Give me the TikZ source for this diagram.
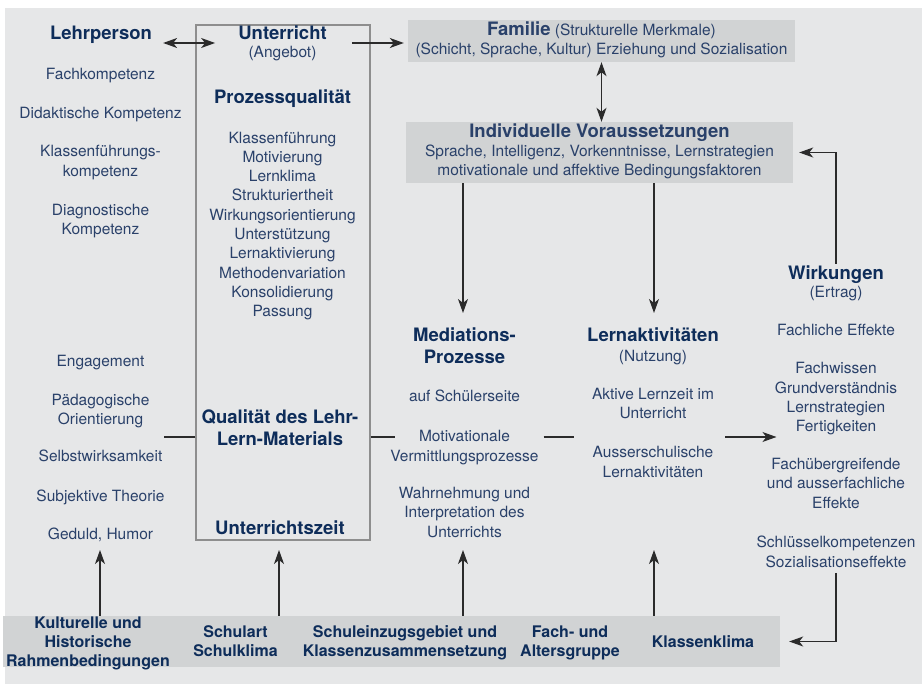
\documentclass[tikz,border=0pt]{standalone}
\usepackage{fontspec}
\setmainfont{TeX Gyre Heros}
\usetikzlibrary{arrows.meta,calc}
\definecolor{bgc}{HTML}{E6E7E8}
\definecolor{boxc}{HTML}{D1D3D4}
\definecolor{txtc}{HTML}{2A416A}
\definecolor{ttlc}{HTML}{0E2D5A}
\definecolor{lnc}{HTML}{2B2B2B}
\definecolor{framec}{HTML}{8E8E8E}
\newcommand\rgf{\fontsize{15.5}{19.3}\selectfont}
\newcommand\bdf{\fontsize{18.5}{22.5}\selectfont\bfseries}
\newcommand\btf{\fontsize{16}{19}\selectfont\bfseries}
\tikzset{
  txt/.style={inner sep=0pt, align=center, text=txtc, font=\rgf},
  ttl/.style={inner sep=0pt, align=center, text=ttlc, font=\bdf},
  btm/.style={inner sep=0pt, align=center, text=ttlc, font=\btf},
  conn/.style={draw=lnc, line width=1.2pt},
  arr/.style={conn, -{Stealth[length=14pt,width=10pt,inset=4pt]}},
  arrtwo/.style={conn, {Stealth[length=14pt,width=10pt,inset=4pt]}-{Stealth[length=14pt,width=10pt,inset=4pt]}},
  graybox/.style={fill=boxc, inner sep=0pt}
}
\begin{document}
\begin{tikzpicture}[x=1pt,y=-1pt]
\useasboundingbox (0,0) rectangle (922,684);
\fill[bgc] (5,8) rectangle (922,684);

% frame of Unterricht
\node[draw=framec, line width=1.2pt, minimum width=174pt, minimum height=515pt, inner sep=0pt] (ubox) at (283,282.5) {};

% gray boxes
\node[graybox, minimum width=387pt, minimum height=42pt, txt] (fam) at (601.5,41)
  {\strut{\bdf Familie} (Strukturelle Merkmale)\\\strut(Schicht, Sprache, Kultur) Erziehung und Sozialisation};
\node[graybox, minimum width=387pt, minimum height=61pt, txt] (indiv) at (599.5,152.5)
  {\strut{\bdf Individuelle Voraussetzungen}\\\strut Sprache, Intelligenz, Vorkenntnisse, Lernstrategien\\\strut motivationale und affektive Bedingungsfaktoren};
\node[graybox, minimum width=777pt, minimum height=51pt] (band) at (391.5,641.5) {};

% left column
\node[ttl] (lehr) at (101,35) {\strut Lehrperson};
\node[txt] (l1) at (100.5,76) {\strut Fachkompetenz};
\node[txt] (l2) at (100.5,115) {\strut Didaktische Kompetenz};
\node[txt] (l3) at (100.5,162.5) {\strut Klassenführungs-\\\strut kompetenz};
\node[txt] (l4) at (100.5,221) {\strut Diagnostische\\\strut Kompetenz};
\node[txt] (l5) at (100.5,363) {\strut Engagement};
\node[txt] (l6) at (100.5,411) {\strut Pädagogische\\\strut Orientierung};
\node[txt] (l7) at (100.5,458) {\strut Selbstwirksamkeit};
\node[txt] (l8) at (100.5,498) {\strut Subjektive Theorie};
\node[txt] (l9) at (100.5,536) {\strut Geduld, Humor};

% center column
\node[ttl] (unt) at (282.5,35) {\strut Unterricht};
\node[txt] (ang) at (282.5,54) {\strut(Angebot)};
\node[ttl] (pq) at (282.5,99) {\strut Prozessqualität};
\node[txt] (pql) at (282.5,226) {\strut Klassenführung\\\strut Motivierung\\\strut Lernklima\\\strut Strukturiertheit\\\strut Wirkungsorientierung\\\strut Unterstützung\\\strut Lernaktivierung\\\strut Methodenvariation\\\strut Konsolidierung\\\strut Passung};
\node[ttl] (qlm) at (280,430) {\strut Qualität des Lehr-\\\strut Lern-Materials};
\node[ttl] (uz) at (280,530) {\strut Unterrichtszeit};

% mediation column
\node[ttl] (medT) at (464.5,348) {\strut Mediations-\\\strut Prozesse};
\node[txt] (med0) at (464.5,398) {\strut auf Schülerseite};
\node[txt] (med1) at (464.5,447.5) {\strut Motivationale\\\strut Vermittlungsprozesse};
\node[txt] (med2) at (464.5,514) {\strut Wahrnehmung und\\\strut Interpretation des\\\strut Unterrichts};

% learning activities column
\node[ttl] (lakT) at (653,337) {\strut Lernaktivitäten};
\node[txt] (nutz) at (653,358) {\strut(Nutzung)};
\node[txt] (lak1) at (653,405) {\strut Aktive Lernzeit im\\\strut Unterricht};
\node[txt] (lak2) at (653,463.5) {\strut Ausserschulische\\\strut Lernaktivitäten};

% effects column
\node[ttl] (wirk) at (836,275) {\strut Wirkungen};
\node[txt] (ertrag) at (836,294) {\strut(Ertrag)};
\node[txt] (w1) at (836,332) {\strut Fachliche Effekte};
\node[txt] (w2) at (836,399) {\strut Fachwissen\\\strut Grundverständnis\\\strut Lernstrategien\\\strut Fertigkeiten};
\node[txt] (w3) at (836,485) {\strut Fachübergreifende\\\strut und ausserfachliche\\\strut Effekte};
\node[txt] (w4) at (836,553.5) {\strut Schlüsselkompetenzen\\\strut Sozialisationseffekte};

% bottom band texts
\node[btm] (b1) at (88,644) {\strut Kulturelle und\\\strut Historische\\\strut Rahmenbedingungen};
\node[btm] (b2) at (235.5,643.5) {\strut Schulart\\\strut Schulklima};
\node[btm] (b3) at (405,643.5) {\strut Schuleinzugsgebiet und\\\strut Klassenzusammensetzung};
\node[btm] (b4) at (570,643.5) {\strut Fach- und\\\strut Altersgruppe};
\node[btm] (b5) at (703,644) {\strut Klassenklima};

% helper coordinates
\coordinate (yA) at (0,43);
\coordinate (yM) at (0,437);
\coordinate (d1) at (463,313);
\coordinate (d2) at (654,313);
\coordinate (u1) at (100,550);
\coordinate (u2) at (279,550);
\coordinate (u3) at (463,550);
\coordinate (u4) at (654,550);

% top arrows
\draw[arrtwo, shorten <=11pt, shorten >=23pt] (lehr.east |- yA) -- (unt.west |- yA);
\draw[arr, shorten <=25pt, shorten >=4pt] (unt.east |- yA) -- (fam.west |- yA);
\draw[arrtwo] (fam.south) -- (indiv.north -| fam.south);

% down arrows from individual prerequisites
\draw[arr] (indiv.south -| d1) -- (d1);
\draw[arr] (indiv.south -| d2) -- (d2);

% feedback loops
\draw[arr] (wirk.north) |- ($(indiv.east)+(6,0)$);
\draw[arr] (w4.south) |- ($(band.east)+(9,0)$);

% horizontal chain
\draw[conn] (ubox.west |- yM) -- ++(-31,0);
\draw[conn] (ubox.east |- yM) -- ++(24,0);
\draw[conn] (med1.east |- yM) ++(5,0) -- ++(30,0);
\draw[arr] (lak2.east |- yM) ++(12,0) -- ++(51,0);

% up arrows from bottom band
\draw[arr] (band.north -| u1) -- (u1);
\draw[arr] (band.north -| u2) -- (u2);
\draw[arr] (band.north -| u3) -- (u3);
\draw[arr] (band.north -| u4) -- (u4);
\end{tikzpicture}
\end{document}
